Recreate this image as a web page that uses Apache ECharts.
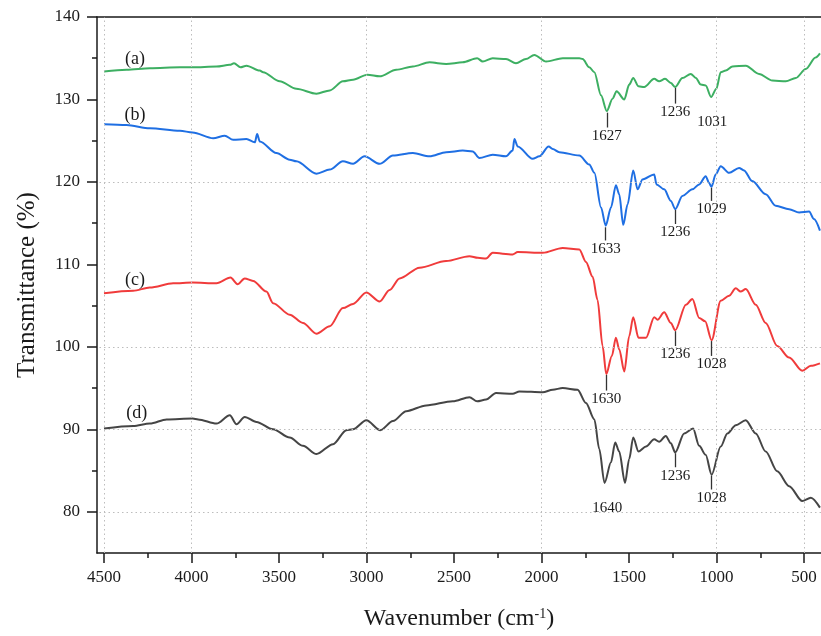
<!DOCTYPE html>
<html>
<head>
<meta charset="utf-8">
<title>FTIR spectra</title>
<script src="https://cdn.jsdelivr.net/npm/echarts@6/dist/echarts.min.js"></script>
<style>
  html, body { margin: 0; padding: 0; background: #fff; }
  #chart { width: 821px; height: 636px; }
</style>
</head>
<body>
<div id="chart"></div>
<script>
// axis tick values
var xMajor = [500, 1000, 1500, 2000, 2500, 3000, 3500, 4000, 4500];
var xMinor = [750, 1250, 1750, 2250, 2750, 3250, 3750, 4250];
var xGrid = [500, 1000, 2000, 3000, 4000, 4500];
var yMajor = [80, 90, 100, 110, 120, 130, 140];
var yMinor = [85, 95, 105, 115, 125, 135];
var yGrid = [80, 90, 100, 120];

// (a) green
var waveA = [4500, 4371, 4238, 4066, 3994, 3857, 3781, 3757, 3720, 3686, 3610, 3591, 3496, 3401, 3286, 3210, 3135, 3077, 2995, 2925,
  2830, 2735, 2640, 2545, 2450, 2368, 2336, 2279, 2203, 2146, 2089, 2041, 1974, 1879, 1784, 1765, 1727, 1698, 1660, 1627,
  1594, 1571, 1527, 1499, 1476, 1446, 1413, 1356, 1328, 1294, 1261, 1236, 1195, 1147, 1118, 1090, 1062, 1031, 1001, 976,
  947, 909, 833, 757, 681, 604, 547, 490, 434, 409];
var transA = [133.4, 133.6, 133.8, 133.9, 133.9, 134.0, 134.2, 134.4, 133.9, 134.1, 133.5, 133.3, 132.2, 131.3, 130.7, 131.1, 132.2, 132.4, 133.0, 132.8,
  133.6, 134.0, 134.5, 134.3, 134.5, 135.0, 134.6, 135.0, 134.9, 134.4, 134.9, 135.4, 134.6, 135.0, 135.0, 134.9, 133.9, 133.3, 130.5, 128.6,
  130.1, 131.0, 130.0, 131.8, 132.6, 131.6, 131.5, 132.5, 132.2, 132.5, 132.0, 131.5, 132.6, 133.1, 132.6, 131.8, 131.7, 130.3, 131.3, 133.3,
  133.5, 134.0, 134.1, 133.1, 132.3, 132.2, 132.6, 133.7, 135.1, 135.6];

// (b) blue
var waveB = [4500, 4371, 4238, 4066, 3994, 3876, 3810, 3762, 3686, 3638, 3625, 3610, 3515, 3439, 3401, 3286, 3210, 3135, 3077, 3011,
  2925, 2849, 2735, 2640, 2545, 2450, 2393, 2355, 2279, 2203, 2165, 2155, 2136, 2051, 2012, 1959, 1936, 1898, 1784, 1727,
  1698, 1660, 1633, 1603, 1575, 1556, 1533, 1508, 1476, 1451, 1423, 1356, 1343, 1299, 1261, 1236, 1195, 1138, 1099, 1062,
  1043, 1029, 1005, 976, 928, 871, 843, 796, 719, 662, 585, 528, 471, 443, 409];
var transB = [127.0, 126.9, 126.5, 126.2, 126.0, 125.3, 125.6, 125.1, 125.2, 124.8, 125.8, 124.9, 123.5, 122.7, 122.5, 121.0, 121.5, 122.5, 122.2, 123.1,
  122.2, 123.2, 123.5, 123.1, 123.6, 123.8, 123.7, 122.9, 123.3, 123.1, 123.8, 125.2, 124.3, 122.8, 123.1, 124.3, 124.0, 123.6, 123.2, 122.1,
  121.1, 116.9, 114.7, 116.9, 119.6, 118.5, 114.8, 117.3, 121.4, 119.1, 120.3, 120.9, 119.7, 119.1, 117.7, 116.7, 118.3, 119.1, 119.7, 120.7,
  119.9, 119.4, 120.9, 121.9, 121.1, 121.7, 121.4, 120.1, 118.5, 117.1, 116.7, 116.3, 116.4, 115.5, 114.1];

// (c) red
var waveC = [4500, 4333, 4238, 4105, 3994, 3857, 3777, 3737, 3696, 3648, 3572, 3534, 3439, 3363, 3286, 3210, 3135, 3077, 3001, 2925,
  2868, 2811, 2697, 2545, 2412, 2364, 2317, 2279, 2165, 2136, 1993, 1879, 1784, 1746, 1708, 1680, 1651, 1630, 1598, 1575,
  1556, 1527, 1499, 1476, 1446, 1403, 1356, 1337, 1299, 1261, 1236, 1175, 1138, 1099, 1065, 1028, 976, 928, 890, 862,
  833, 776, 719, 653, 585, 510, 461, 409];
var transC = [106.5, 106.8, 107.2, 107.7, 107.8, 107.7, 108.4, 107.6, 108.3, 108.0, 106.7, 105.3, 103.9, 102.9, 101.6, 102.5, 104.7, 105.2, 106.6, 105.5,
  106.9, 108.3, 109.6, 110.4, 111.0, 110.8, 110.7, 111.4, 111.2, 111.5, 111.4, 112.0, 111.8, 110.3, 108.5, 105.7, 100.1, 96.7, 98.9, 101.1,
  99.7, 97.0, 101.3, 103.6, 101.1, 101.1, 103.6, 103.3, 104.2, 102.9, 102.0, 105.1, 105.8, 103.5, 103.1, 100.8, 105.6, 106.2, 107.1, 106.7,
  107.0, 105.1, 102.9, 100.1, 98.7, 97.1, 97.7, 98.0];

// (d) dark grey
var waveD = [4500, 4333, 4238, 4142, 3994, 3962, 3857, 3781, 3743, 3696, 3629, 3534, 3439, 3363, 3286, 3191, 3115, 3077, 3001, 2921,
  2849, 2773, 2659, 2507, 2412, 2368, 2317, 2260, 2165, 2126, 1993, 1936, 1879, 1794, 1746, 1698, 1670, 1640, 1603, 1579,
  1556, 1523, 1499, 1476, 1446, 1403, 1356, 1328, 1290, 1261, 1236, 1185, 1134, 1099, 1062, 1028, 976, 938, 890, 833,
  776, 719, 653, 585, 510, 461, 409];
var transD = [90.1, 90.4, 90.7, 91.2, 91.3, 91.2, 90.7, 91.7, 90.6, 91.5, 90.9, 90.0, 89.0, 88.0, 87.0, 88.2, 89.9, 90.0, 91.1, 89.9,
  91.0, 92.2, 92.9, 93.4, 93.9, 93.4, 93.6, 94.4, 94.3, 94.6, 94.5, 94.8, 95.0, 94.8, 93.2, 91.2, 87.6, 83.5, 86.0, 88.4,
  87.3, 83.5, 86.4, 89.0, 87.3, 87.9, 88.8, 88.5, 89.2, 88.3, 87.2, 89.5, 90.1, 88.0, 86.9, 84.5, 87.9, 89.5, 90.5, 91.1,
  89.5, 87.3, 84.9, 83.1, 81.3, 81.7, 80.5];

// peak markers: [wavenumber, line top, line bottom, text]
var peaksA = [[1627, 128.4, 126.6, '1627'], [1236, 131.4, 129.5, '1236']];
var peaksB = [[1633, 114.5, 112.9, '1633'], [1236, 116.6, 114.9, '1236'], [1029, 119.3, 117.7, '1029']];
var peaksC = [[1630, 96.6, 94.7, '1630'], [1236, 101.9, 100.1, '1236'], [1028, 100.7, 98.9, '1028']];
var peaksD = [[1236, 87.1, 85.4, '1236'], [1028, 84.4, 82.7, '1028']];
// free text: [wavenumber, transmittance, text]
var notesA = [[4323, 134.9, '(a)'], [1025, 127.2, '1031']];
var notesB = [[4323, 128.1, '(b)']];
var notesC = [[4323, 108.1, '(c)']];
var notesD = [[4313, 92.0, '(d)'], [1624, 80.5, '1640']];

var X_MIN = 403, X_MAX = 4540, Y_MIN = 75, Y_MAX = 140;
var FONT = '"Liberation Serif", "Times New Roman", serif';
var INK = '#1a1a1a';

var myChart = echarts.init(document.getElementById('chart'));

function pairs(w, t) {
  return w.map(function (x, i) { return [x, t[i]]; });
}

function makeSeries(name, w, t, color, peaks, notes) {
  return {
    name: name,
    type: 'line',
    data: pairs(w, t),
    showSymbol: false,
    symbol: 'none',
    smooth: 0.3,
    smoothMonotone: 'x',
    lineStyle: { color: color, width: 2 },
    itemStyle: { color: color },
    markLine: {
      silent: true,
      symbol: ['none', 'none'],
      lineStyle: { color: '#333', width: 1.3, type: 'solid' },
      label: {
        show: true,
        position: 'end',
        distance: 1,
        formatter: function (p) { return p.name; },
        fontFamily: FONT,
        fontSize: 15,
        color: INK
      },
      data: peaks.map(function (p) {
        return [{ coord: [p[0], p[1]], name: p[3] }, { coord: [p[0], p[2]], name: p[3] }];
      })
    },
    markPoint: {
      silent: true,
      symbol: 'circle',
      symbolSize: 0,
      label: {
        show: true,
        position: 'inside',
        formatter: function (p) { return p.name; },
        fontFamily: FONT,
        fontSize: 15,
        color: INK
      },
      data: notes.map(function (n) {
        return { coord: [n[0], n[1]], name: n[2], label: n[2].charAt(0) === '(' ? { fontSize: 18 } : {} };
      })
    }
  };
}

function plainAxis(extra) {
  var base = {
    type: 'value',
    axisLine: { show: false },
    axisTick: { show: false },
    axisLabel: { show: false },
    splitLine: { show: false }
  };
  return Object.assign(base, extra);
}

var axisLineStyle = { color: INK, width: 1.5 };
var gridLineStyle = { color: '#bdbdbd', width: 1, type: [1.5, 3] };
var plainNumber = function (v) { return String(v); };

// dotted grid drawn as full-span mark lines
var gridSeries = {
  name: 'grid',
  type: 'line',
  data: [],
  silent: true,
  markLine: {
    silent: true,
    symbol: ['none', 'none'],
    label: { show: false },
    lineStyle: gridLineStyle,
    data: xGrid.map(function (v) { return { xAxis: v }; })
      .concat(yGrid.map(function (v) { return { yAxis: v }; }))
  }
};

var option = {
  animation: false,
  backgroundColor: '#fff',
  grid: { left: 97, top: 17, width: 725, height: 541, containLabel: false },
  xAxis: [
    {
      type: 'value', min: X_MIN, max: X_MAX, inverse: true, position: 'bottom',
      axisLine: { show: true, onZero: false, lineStyle: axisLineStyle },
      axisTick: { show: true, customValues: xMajor, length: 10, lineStyle: axisLineStyle },
      axisLabel: { customValues: xMajor, margin: 16, fontSize: 17, fontFamily: FONT, color: INK, formatter: plainNumber },
      splitLine: { show: false },
      name: 'Wavenumber (cm{sup|-1})',
      nameLocation: 'middle',
      nameGap: 54,
      nameTextStyle: {
        fontFamily: FONT, fontSize: 24, color: INK,
        rich: { sup: { fontFamily: FONT, fontSize: 14, color: INK, verticalAlign: 'top', padding: [0, 0, 10, 0] } }
      }
    },
    plainAxis({
      min: X_MIN, max: X_MAX, inverse: true, position: 'bottom',
      axisTick: { show: true, customValues: xMinor, length: 5, lineStyle: axisLineStyle }
    }),
    plainAxis({
      min: X_MIN, max: X_MAX, inverse: true, position: 'top',
      axisLine: { show: true, onZero: false, lineStyle: axisLineStyle }
    })
  ],
  yAxis: [
    {
      type: 'value', min: Y_MIN, max: Y_MAX, position: 'left',
      axisLine: { show: true, onZero: false, lineStyle: axisLineStyle },
      axisTick: { show: true, customValues: yMajor, length: 10, lineStyle: axisLineStyle },
      axisLabel: { customValues: yMajor, margin: 17, fontSize: 17, fontFamily: FONT, color: INK, formatter: plainNumber },
      splitLine: { show: false },
      name: 'Transmittance (%)',
      nameLocation: 'middle',
      nameGap: 57,
      nameTextStyle: { fontFamily: FONT, fontSize: 25, color: INK }
    },
    plainAxis({
      min: Y_MIN, max: Y_MAX, position: 'left',
      axisTick: { show: true, customValues: yMinor, length: 5, lineStyle: axisLineStyle }
    })
  ],
  series: [
    gridSeries,
    makeSeries('(a)', waveA, transA, '#3daf62', peaksA, notesA),
    makeSeries('(b)', waveB, transB, '#1f6fe3', peaksB, notesB),
    makeSeries('(c)', waveC, transC, '#f03b3b', peaksC, notesC),
    makeSeries('(d)', waveD, transD, '#454545', peaksD, notesD)
  ]
};

myChart.setOption(option);
</script>
</body>
</html>
